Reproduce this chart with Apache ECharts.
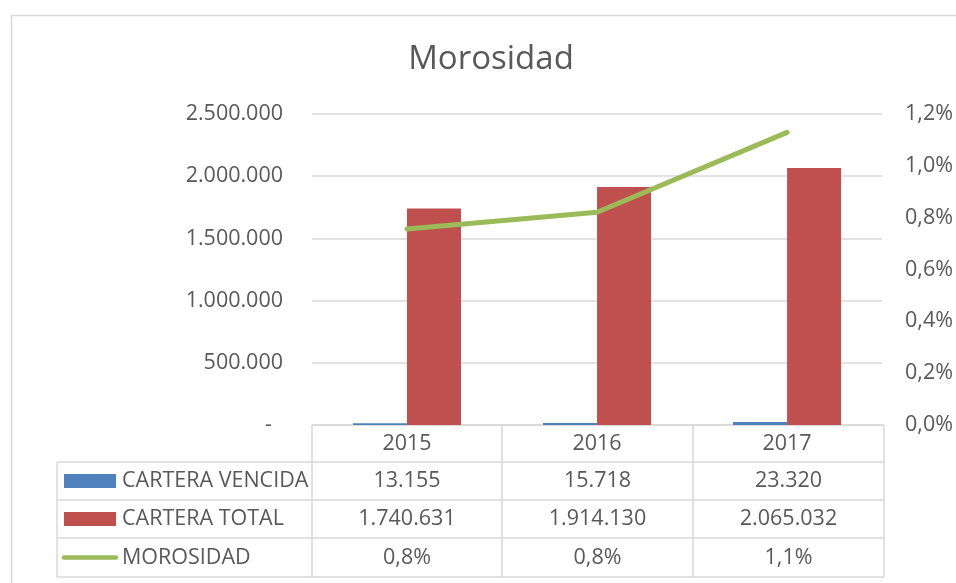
<!DOCTYPE html>
<html>
<head>
<meta charset="utf-8">
<script src="https://cdn.jsdelivr.net/npm/echarts@6/dist/echarts.min.js"></script>
<style>
  html, body { margin: 0; padding: 0; background: #fff; }
  #chart { width: 956px; height: 583px; }
</style>
</head>
<body>
<div id="chart"></div>
<script>
// data
const years = ['2015', '2016', '2017'];
const carteraVencida = [13155, 15718, 23320];
const carteraTotal = [1740631, 1914130, 2065032];
const morosidad = [0.756, 0.821, 1.129];   // percent
const morosidadLabels = ['0,8%', '0,8%', '1,1%'];
const seriesNames = ['CARTERA VENCIDA', 'CARTERA TOTAL', 'MOROSIDAD'];

const txt = '#595959';
const lineCol = '#d9d9d9';
const font = '"Open Sans", sans-serif';
const fs = 21.5;

const fmtMiles = n => n === 0 ? '-  ' : String(n).replace(/\B(?=(\d{3})+(?!\d))/g, '.');
const fmtPct = v => v.toFixed(1).replace('.', ',') + '%';

// layout of the plot and table
const gL = 312, gR = 884, gT = 114, gB = 425;
const tabL = 57;
const rowY = [425, 462, 500, 538, 577];
const colX = [gL, 502, 693, gR];

const myChart = echarts.init(document.getElementById('chart'));

const graphic = [];
graphic.push({
  type: 'rect', shape: { x: 11.5, y: 15.5, width: 1000, height: 700 },
  style: { fill: 'none', stroke: lineCol, lineWidth: 1.5 }, z: -10
});
// title (sits a bit right of centre in the original)
graphic.push({
  type: 'text', x: 491, y: 60,
  style: { text: 'Morosidad', fill: txt, font: '33px ' + font, textAlign: 'center', textVerticalAlign: 'middle' }
});
// table grid
graphic.push({ type: 'line', shape: { x1: gL, y1: rowY[0], x2: gR, y2: rowY[0] }, style: { stroke: lineCol, lineWidth: 1.5 } });
for (let i = 1; i < rowY.length; i++) {
  graphic.push({ type: 'line', shape: { x1: tabL, y1: rowY[i], x2: gR, y2: rowY[i] }, style: { stroke: lineCol, lineWidth: 1.5 } });
}
graphic.push({ type: 'line', shape: { x1: tabL, y1: rowY[1], x2: tabL, y2: rowY[4] }, style: { stroke: lineCol, lineWidth: 1.5 } });
colX.forEach(x => {
  graphic.push({ type: 'line', shape: { x1: x, y1: rowY[0], x2: x, y2: rowY[4] }, style: { stroke: lineCol, lineWidth: 1.5 } });
});
// legend keys + labels in first column
const rowMid = i => (rowY[i + 1] + rowY[i + 2]) / 2;
graphic.push({ type: 'rect', shape: { x: 64, y: rowMid(0) - 7, width: 52, height: 14 }, style: { fill: '#4F81BD' } });
graphic.push({ type: 'rect', shape: { x: 64, y: rowMid(1) - 7, width: 52, height: 14 }, style: { fill: '#C0504D' } });
graphic.push({ type: 'line', shape: { x1: 64, y1: rowMid(2), x2: 116, y2: rowMid(2) }, style: { stroke: '#9BBB59', lineWidth: 4.5, lineCap: 'round' } });
seriesNames.forEach((name, i) => {
  graphic.push({
    type: 'text', x: 122, y: rowMid(i),
    style: { text: name, fill: txt, font: fs + 'px ' + font, textAlign: 'left', textVerticalAlign: 'middle' }
  });
});
// table values
const rows = [carteraVencida.map(fmtMiles), carteraTotal.map(fmtMiles), morosidadLabels];
rows.forEach((vals, r) => {
  vals.forEach((v, c) => {
    graphic.push({
      type: 'text', x: (colX[c] + colX[c + 1]) / 2, y: rowMid(r),
      style: { text: v, fill: txt, font: fs + 'px ' + font, textAlign: 'center', textVerticalAlign: 'middle' }
    });
  });
});

const option = {
  animation: false,
  grid: { left: gL, top: gT, width: gR - gL, height: gB - gT },
  xAxis: {
    type: 'category', data: years,
    axisLine: { show: false }, axisTick: { show: false },
    axisLabel: { color: txt, fontFamily: font, fontSize: fs, margin: 19, verticalAlign: 'middle' }
  },
  yAxis: [
    {
      type: 'value', min: 0, max: 2500000, interval: 500000,
      axisLine: { show: false }, axisTick: { show: false },
      splitLine: { lineStyle: { color: lineCol, width: 1.5 } },
      axisLabel: { color: txt, fontFamily: font, fontSize: fs, margin: 29, formatter: fmtMiles }
    },
    {
      type: 'value', min: 0, max: 1.2, interval: 0.2,
      axisLine: { show: false }, axisTick: { show: false }, splitLine: { show: false },
      axisLabel: { color: txt, fontFamily: font, fontSize: fs, margin: 23, formatter: fmtPct }
    }
  ],
  series: [
    { name: seriesNames[0], type: 'bar', data: carteraVencida, barWidth: 54, barGap: '0%', itemStyle: { color: '#4F81BD' } },
    { name: seriesNames[1], type: 'bar', data: carteraTotal, barWidth: 54, barGap: '0%', itemStyle: { color: '#C0504D' } },
    {
      name: seriesNames[2], type: 'line', yAxisIndex: 1, data: morosidad,
      symbol: 'none', lineStyle: { color: '#9BBB59', width: 5, cap: 'round' }, z: 5
    }
  ],
  graphic: graphic
};

myChart.setOption(option);
</script>
</body>
</html>
